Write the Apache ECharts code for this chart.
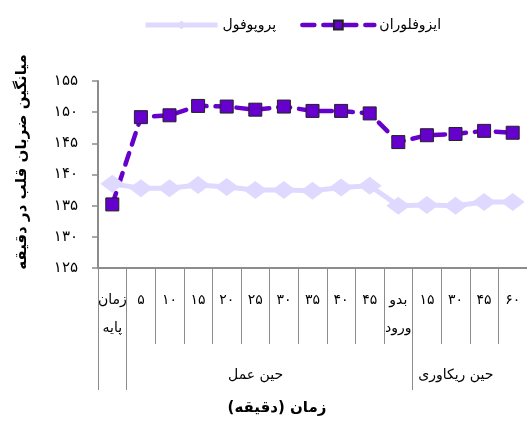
<!DOCTYPE html>
<html lang="fa">
<head>
    <meta charset="UTF-8">
    <title>ضربان قلب</title>
    <script src="https://cdn.jsdelivr.net/npm/echarts@6/dist/echarts.min.js"></script>
    <style>
        html, body { margin: 0; padding: 0; background: #fff; }
    </style>
</head>
<body>
    <div id="main" style="width:527px;height:421px;"></div>
    <script>
        // categories (x axis), persian digits
        const categories = ['زمان\nپایه', '۵', '۱۰', '۱۵', '۲۰', '۲۵', '۳۰', '۳۵', '۴۰', '۴۵', 'بدو\nورود', '۱۵', '۳۰', '۴۵', '۶۰'];
        const propofol = [138.5, 137.8, 137.8, 138.3, 138.0, 137.5, 137.5, 137.4, 137.9, 138.2, 135.0, 135.1, 135.0, 135.6, 135.6];
        const isoflurane = [135.2, 149.2, 149.5, 151.0, 150.9, 150.4, 150.9, 150.2, 150.2, 149.8, 145.2, 146.3, 146.5, 147.0, 146.7];
        const seriesNames = ['پروپوفول', 'ایزوفلوران'];
        // groups under the category labels: [start boundary, end boundary]
        const groupNames = ['حین عمل', 'حین ریکاوری'];
        const groupBounds = [[1, 11], [11, 15]];
        const yMin = 125, yMax = 155, yStep = 5;

        const fa = '۰۱۲۳۴۵۶۷۸۹';
        function toFa(v) {
            return String(v).replace(/[0-9]/g, function (d) { return fa[+d]; });
        }

        const font = "'DejaVu Sans', sans-serif";
        const axisGrey = '#8c8c8c';
        const lightColor = '#e0d9ff';
        const darkColor = '#6600cc';

        let chart = echarts.init(document.getElementById('main'));

        let groupCenters = groupBounds.map(function (b) { return (b[0] + b[1]) / 2; });
        let groupEdges = [0];
        groupBounds.forEach(function (b) {
            if (groupEdges.indexOf(b[0]) < 0) groupEdges.push(b[0]);
        });

        chart.setOption({
            animation: false,
            textStyle: { fontFamily: font },
            legend: {
                top: 13,
                left: 138,
                itemWidth: 72,
                itemHeight: 11,
                itemGap: 24,
                textStyle: { fontSize: 14, color: '#000', fontFamily: font },
                data: [{
                    name: seriesNames[0],
                    lineStyle: { color: lightColor, width: 5 }
                }, {
                    name: seriesNames[1],
                    lineStyle: { color: darkColor, width: 4.5, type: [12, 9], cap: 'round' }
                }]
            },
            grid: { left: 98, right: 0, top: 81, bottom: 153 },
            xAxis: [{
                type: 'category',
                data: categories,
                boundaryGap: true,
                axisLine: { show: true, lineStyle: { color: axisGrey, width: 2 } },
                axisTick: { show: true, interval: 0, length: 76, lineStyle: { color: axisGrey, width: 1 } },
                axisLabel: {
                    interval: 0,
                    margin: 18,
                    fontSize: 14,
                    lineHeight: 28,
                    color: '#000',
                    fontFamily: font
                }
            }, {
                type: 'value',
                min: 0,
                max: categories.length,
                position: 'bottom',
                axisLine: { show: false },
                splitLine: { show: false },
                axisTick: {
                    show: true,
                    customValues: groupEdges,
                    length: 122,
                    lineStyle: { color: axisGrey, width: 1 }
                },
                axisLabel: {
                    customValues: groupCenters,
                    margin: 100,
                    padding: [0, 28, 0, 0],
                    fontSize: 14,
                    color: '#000',
                    fontFamily: font,
                    formatter: function (v) {
                        return groupNames[groupCenters.indexOf(v)] || '';
                    }
                }
            }],
            yAxis: {
                type: 'value',
                min: yMin,
                max: yMax,
                interval: yStep,
                axisLine: { show: true, lineStyle: { color: axisGrey, width: 2 } },
                axisTick: { show: true, length: 6, lineStyle: { color: axisGrey, width: 1.5 } },
                splitLine: { show: false },
                axisLabel: {
                    margin: 20,
                    fontSize: 15,
                    color: '#000',
                    fontFamily: font,
                    formatter: function (v) { return toFa(v); }
                }
            },
            graphic: [{
                type: 'text',
                x: 22,
                y: 162,
                rotation: Math.PI / 2,
                style: {
                    text: 'میانگین ضربان قلب در دقیقه',
                    font: "bold 15px 'DejaVu Sans', sans-serif",
                    fill: '#000',
                    align: 'center',
                    verticalAlign: 'middle'
                }
            }, {
                type: 'text',
                x: 277,
                y: 408,
                style: {
                    text: 'زمان (دقیقه)',
                    font: "bold 15px 'DejaVu Sans', sans-serif",
                    fill: '#000',
                    align: 'center',
                    verticalAlign: 'middle'
                }
            }],
            series: [{
                name: seriesNames[0],
                type: 'line',
                data: propofol,
                symbol: 'diamond',
                symbolSize: [24, 18],
                itemStyle: { color: lightColor },
                lineStyle: { color: lightColor, width: 5 }
            }, {
                name: seriesNames[1],
                type: 'line',
                data: isoflurane,
                symbol: 'rect',
                symbolSize: 13,
                itemStyle: { color: darkColor, borderColor: '#222', borderWidth: 1 },
                lineStyle: { color: darkColor, width: 4.5, type: [12, 9], cap: 'round' }
            }]
        });
    </script>
</body>
</html>
